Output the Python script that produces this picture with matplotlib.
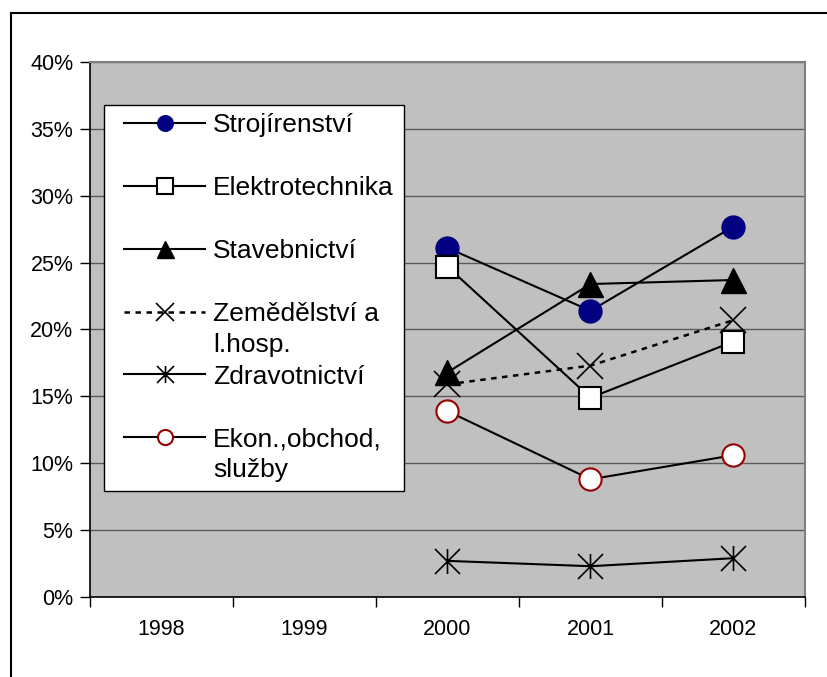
import numpy as np
import matplotlib
matplotlib.use('Agg')
import matplotlib.pyplot as plt
from matplotlib.path import Path
from matplotlib.patches import Rectangle
from matplotlib.ticker import FixedLocator, PercentFormatter

plt.rcParams['font.family'] = ['Liberation Sans', 'DejaVu Sans']

# Data (procenta), 1998 a 1999 bez hodnot
roky = ['1998', '1999', '2000', '2001', '2002']
strojirenstvi = [np.nan, np.nan, 26.1, 21.4, 27.7]
elektrotechnika = [np.nan, np.nan, 24.7, 14.9, 19.1]
stavebnictvi = [np.nan, np.nan, 16.8, 23.4, 23.7]
zemedelstvi = [np.nan, np.nan, 15.9, 17.3, 20.7]
zdravotnictvi = [np.nan, np.nan, 2.7, 2.3, 2.9]
ekonomika = [np.nan, np.nan, 13.9, 8.8, 10.6]

# prvni radek popisku v legende, druhy radek se pripisuje zvlast (jako v Excelu)
nazvy = ['Strojírenství', 'Elektrotechnika', 'Stavebnictví',
         'Zemědělství a', 'Zdravotnictví', 'Ekon.,obchod,']
druhe_radky = {3: 'l.hosp.', 5: 'služby'}

# hvezdicka (X + svisla cara)
hvezdicka = Path([(0, -1), (0, 1), (-1, -1), (1, 1), (-1, 1), (1, -1)],
                 [Path.MOVETO, Path.LINETO] * 3)

fig = plt.figure(figsize=(8.27, 6.77), dpi=100)
ax = fig.add_axes([0.1088, 0.1182, 0.8646, 0.7902])
ax.set_facecolor('#c0c0c0')

x = np.arange(len(roky))
lw = 1.5
ax.plot(x, strojirenstvi, color='black', lw=lw, marker='o', ms=16.5,
        mfc='#000080', mec='#000080', label=nazvy[0])
ax.plot(x, elektrotechnika, color='black', lw=lw, marker='s', ms=16,
        mfc='white', mec='black', mew=1.5, label=nazvy[1])
ax.plot(x, stavebnictvi, color='black', lw=lw, marker='^', ms=18,
        mfc='black', mec='black', label=nazvy[2])
ax.plot(x, zemedelstvi, color='black', lw=1.8, ls=(0, (2.2, 2.2)), marker='x', ms=18.5,
        mec='black', mew=1.2, label=nazvy[3])
ax.plot(x, zdravotnictvi, color='black', lw=lw, marker=hvezdicka, ms=18,
        mec='black', mew=1.2, label=nazvy[4])
ax.plot(x, ekonomika, color='black', lw=lw, marker='o', ms=16,
        mfc='white', mec='#990000', mew=1.5, label=nazvy[5])

# osy
ax.set_xlim(-0.5, 4.5)
ax.set_ylim(0, 40)
ax.set_xticks(x)
ax.set_xticklabels(roky, fontsize=15.5)
ax.xaxis.set_minor_locator(FixedLocator(np.arange(-0.5, 5, 1)))
ax.tick_params(axis='x', which='major', length=0, pad=15.5)
ax.tick_params(axis='x', which='minor', length=7, width=1, color='black')
ax.set_yticks(np.arange(0, 41, 5))
ax.yaxis.set_major_formatter(PercentFormatter(decimals=0))
ax.tick_params(axis='y', length=7, width=1, labelsize=15.5, pad=5)
ax.grid(True, axis='y', color='#5a5a5a', lw=1)
ax.set_axisbelow(True)

for s in ['top', 'right']:
    ax.spines[s].set_color('#808080')
    ax.spines[s].set_linewidth(1.5)
for s in ['left', 'bottom']:
    ax.spines[s].set_color('black')
    ax.spines[s].set_linewidth(1.2)

# ramecek legendy
ax.add_patch(Rectangle((0.0196, 0.198), 0.4196, 0.7215, transform=ax.transAxes,
                       facecolor='white', edgecolor='black', lw=1, zorder=4))

leg = ax.legend(loc='upper left', bbox_to_anchor=(0.0476, 0.904),
                fontsize=19, frameon=False, handlelength=3.07,
                handletextpad=0.3, labelspacing=1.47, borderpad=0,
                markerscale=0.68, borderaxespad=0)

texty = leg.get_texts()
for i, radek in druhe_radky.items():
    ax.annotate(radek, xy=(0, 0), xycoords=texty[i], xytext=(0, -22.3),
                textcoords='offset points', fontsize=19, ha='left', va='bottom',
                zorder=6)

# ramecek kolem celeho grafu
fig.patches.append(Rectangle((0.0133, -0.1), 1.2, 1.0808, transform=fig.transFigure,
                             fill=False, edgecolor='black', lw=1.5))

fig.savefig('out.png', dpi=100)
